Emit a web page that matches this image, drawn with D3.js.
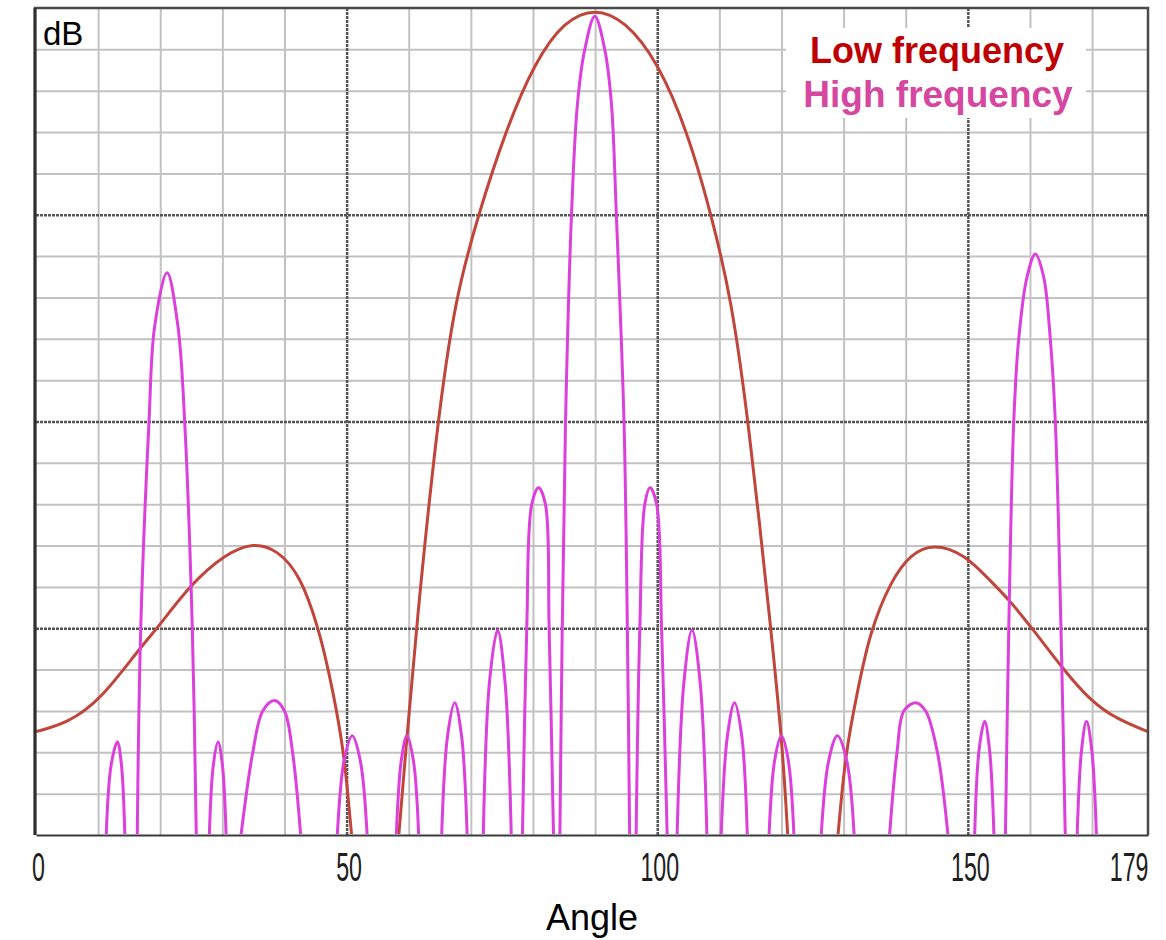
<!DOCTYPE html>
<html>
<head>
<meta charset="utf-8">
<script src="https://cdn.jsdelivr.net/npm/d3@7"></script>
<style>
  body { margin: 0; background: #fff; }
  svg { display: block; }
</style>
</head>
<body>
<div id="grafico"></div>
<script>
const angleTicks = [0, 50, 100, 150, 179];
const gridAngles = [10, 20, 30, 40, 60, 70, 80, 90, 110, 120, 130, 140, 160, 170];
const majorAngles = [50, 100, 150];
const gridDb = [-38, -36, -34, -32, -28, -26, -24, -22, -18, -16, -14, -12, -8, -6, -4, -2];
const majorDb = [-30, -20, -10];

// [angle, dB], null = break between lobes
const lowFreq = [
  [0, -35.0], [5, -34.6], [10.3, -33.5], [16.6, -31.0], [19.8, -29.9], [24.8, -27.9],
  [30.5, -26.4], [35, -25.85], [38.8, -26.2], [42.5, -27.4], [45.5, -30], [47.2, -32.2],
  [48.4, -34], [49.5, -36], [50.2, -38], [50.8, -40],
  null,
  [58.4, -40], [59.7, -35.3], [61.2, -30], [64.6, -20], [67.5, -14], [71.2, -10], [75.5, -6],
  [80.3, -2.6], [85.1, -0.6], [90, 0], [94.8, -0.6], [100.1, -2.6], [104.9, -6], [108.7, -10],
  [111.9, -14], [114.7, -20], [118.3, -30], [120.2, -35.8], [121.0, -40],
  null,
  [129.1, -40], [130.3, -36], [132.2, -33.1], [134.2, -30.2], [137.6, -27.7], [140.8, -26.4],
  [144.5, -25.9], [149.4, -26.4], [153.6, -27.7], [156.6, -28.6], [160.6, -30.1], [165.4, -32],
  [169.7, -33.5], [174, -34.4], [179, -35]
];

const highFreq = [
  [11.3, -40], [12.1, -36.6], [13.1, -35.5], [13.75, -36.6], [14.3, -40],
  null,
  [16.3, -40], [16.86, -30], [18.19, -20], [19.1, -15.4], [21.1, -12.8], [22.85, -15.4],
  [23.93, -20], [25.16, -30], [25.8, -40],
  null,
  [27.9, -40], [28.55, -36.6], [29.3, -35.5], [30.0, -36.6], [30.6, -40],
  null,
  [33.0, -40], [34.9, -36], [36.5, -34], [38.4, -33.5], [40.0, -34], [41.3, -36], [42.6, -40],
  null,
  [48.5, -40], [49.6, -36.4], [50.9, -35.2], [52.2, -36.4], [53.3, -40],
  null,
  [58.0, -40], [58.8, -36.4], [59.7, -35.2], [60.75, -36.4], [61.6, -40],
  null,
  [65.3, -40], [66.25, -35.2], [67.4, -33.6], [68.5, -35.2], [69.4, -40],
  null,
  [72.0, -40], [73.0, -32.6], [74.3, -30.1], [75.5, -32.6], [76.5, -40],
  null,
  [78.3, -40], [79.0, -30], [79.8, -24], [80.9, -23.2], [82.0, -24], [82.6, -30], [83.3, -40],
  null,
  [84.33, -40], [84.71, -30], [85.24, -20], [86.2, -10], [87.17, -4.6], [88.34, -2], [89.95, -0.4],
  [91.55, -2], [92.62, -4.6], [93.42, -10], [94.65, -20], [95.19, -30], [95.56, -40],
  null,
  [96.6, -40], [97.2, -30], [98.0, -24], [98.85, -23.2], [99.9, -24], [100.7, -30], [101.6, -40],
  null,
  [103.2, -40], [104.3, -32.6], [105.6, -30.1], [106.9, -32.6], [108.0, -40],
  null,
  [110.3, -40], [111.3, -35.2], [112.45, -33.6], [113.6, -35.2], [114.5, -40],
  null,
  [118.0, -40], [118.9, -36.4], [120.0, -35.2], [121.1, -36.4], [122.0, -40],
  null,
  [126.4, -40], [127.6, -36.4], [129.0, -35.2], [130.5, -36.4], [131.7, -40],
  null,
  [137.4, -40], [138.6, -36], [139.7, -34], [141.6, -33.6], [143.2, -34], [145.1, -36], [146.8, -40],
  null,
  [151.1, -40], [151.8, -35.9], [152.7, -34.5], [153.5, -35.9], [154.2, -40],
  null,
  [156.05, -40], [156.59, -30], [157.39, -20], [158.19, -16], [159.53, -13], [160.87, -11.9],
  [162.2, -13], [163.27, -16], [164.08, -20], [164.99, -30], [165.68, -40],
  null,
  [167.6, -40], [168.3, -35.9], [169.1, -34.5], [169.95, -35.9], [170.7, -40]
];

const width = 1166, height = 940;
const margin = { left: 36, right: 1148, top: 8, bottom: 835 };

const svg = d3.select("#grafico")
  .append("svg")
  .attr("width", width)
  .attr("height", height);

const x = d3.scaleLinear().domain([0, 179]).range([margin.left, margin.right]);
const y = d3.scaleLinear().domain([-40, 0]).range([margin.bottom, margin.top]);

const plotW = margin.right - margin.left;
const plotH = margin.bottom - margin.top;

svg.append("clipPath")
  .attr("id", "plot-clip")
  .append("rect")
  .attr("x", margin.left).attr("y", margin.top - 2)
  .attr("width", plotW).attr("height", plotH + 1);

// minor grid
svg.append("g")
  .attr("transform", `translate(0, ${margin.bottom})`)
  .call(d3.axisBottom(x).tickValues(gridAngles).tickSize(-plotH).tickFormat(""))
  .call(g => g.select(".domain").remove())
  .selectAll("line").attr("stroke", "#c2c2c2").attr("stroke-width", 2);

svg.append("g")
  .attr("transform", `translate(${margin.left}, 0)`)
  .call(d3.axisLeft(y).tickValues(gridDb).tickSize(-plotW).tickFormat(""))
  .call(g => g.select(".domain").remove())
  .selectAll("line").attr("stroke", "#c2c2c2").attr("stroke-width", 2);

// major grid
svg.append("g")
  .attr("transform", `translate(0, ${margin.bottom})`)
  .call(d3.axisBottom(x).tickValues(majorAngles).tickSize(-plotH).tickFormat(""))
  .call(g => g.select(".domain").remove())
  .selectAll("line").attr("stroke", "#555").attr("stroke-width", 2.5).attr("stroke-dasharray", "3,1");

svg.append("g")
  .attr("transform", `translate(${margin.left}, 0)`)
  .call(d3.axisLeft(y).tickValues(majorDb).tickSize(-plotW).tickFormat(""))
  .call(g => g.select(".domain").remove())
  .selectAll("line").attr("stroke", "#555").attr("stroke-width", 2.5).attr("stroke-dasharray", "3,1");

// legend box covers the grid
svg.append("rect")
  .attr("x", 786).attr("y", 28)
  .attr("width", 300).attr("height", 90)
  .attr("fill", "#fff");

const lineLow = d3.line()
  .defined(d => d !== null)
  .x(d => x(d[0]))
  .y(d => y(d[1]))
  .curve(d3.curveBasis);

const lineHigh = d3.line()
  .defined(d => d !== null)
  .x(d => x(d[0]))
  .y(d => y(d[1]))
  .curve(d3.curveCatmullRom.alpha(0.5));

const curves = svg.append("g").attr("clip-path", "url(#plot-clip)");

curves.append("path")
  .datum(lowFreq)
  .attr("fill", "none")
  .attr("stroke", "#c0463c")
  .attr("stroke-width", 3)
  .attr("d", lineLow);

curves.append("path")
  .datum(highFreq)
  .attr("fill", "none")
  .attr("stroke", "#dc3fdc")
  .attr("stroke-width", 3)
  .attr("stroke-linejoin", "round")
  .attr("d", lineHigh);

// frame
svg.append("path")
  .attr("d", `M${margin.left - 1},${margin.bottom} V${margin.top} H${margin.right} V${margin.bottom}`)
  .attr("fill", "none")
  .attr("stroke", "#4a4a4a")
  .attr("stroke-width", 2.5);
svg.append("line")
  .attr("x1", margin.left - 1).attr("x2", margin.left - 1)
  .attr("y1", margin.top).attr("y2", margin.bottom)
  .attr("stroke", "#2e2e2e").attr("stroke-width", 3);

// x axis
const xAxis = svg.append("g")
  .attr("transform", `translate(0, ${margin.bottom})`)
  .call(d3.axisBottom(x).tickValues(angleTicks).tickSize(0).tickPadding(0));
xAxis.select(".domain").attr("stroke", "#3a3a3a").attr("stroke-width", 2);
xAxis.selectAll(".tick text")
  .attr("y", 0)
  .attr("dy", 0)
  .attr("font-family", "Liberation Sans, Arial, sans-serif")
  .attr("font-size", 40)
  .attr("fill", "#1e1e1e")
  .attr("text-anchor", d => d === 179 ? "end" : "middle")
  .attr("transform", d => `translate(${d === 179 ? 0 : 2}, 46) scale(0.58, 1)`);

svg.append("text")
  .attr("x", 592)
  .attr("y", 930)
  .attr("text-anchor", "middle")
  .attr("font-family", "Liberation Sans, Arial, sans-serif")
  .attr("font-size", 36)
  .attr("fill", "#000")
  .text("Angle");

svg.append("text")
  .attr("x", 43)
  .attr("y", 45)
  .attr("font-family", "Liberation Sans, Arial, sans-serif")
  .attr("font-size", 33)
  .attr("fill", "#000")
  .text("dB");

svg.append("text")
  .attr("x", 937)
  .attr("y", 63)
  .attr("text-anchor", "middle")
  .attr("font-family", "Liberation Sans, Arial, sans-serif")
  .attr("font-weight", "bold")
  .attr("font-size", 36)
  .attr("fill", "#c00000")
  .text("Low frequency");

svg.append("text")
  .attr("x", 938)
  .attr("y", 107)
  .attr("text-anchor", "middle")
  .attr("font-family", "Liberation Sans, Arial, sans-serif")
  .attr("font-weight", "bold")
  .attr("font-size", 37)
  .attr("fill", "#d6479f")
  .text("High frequency");
</script>
</body>
</html>
